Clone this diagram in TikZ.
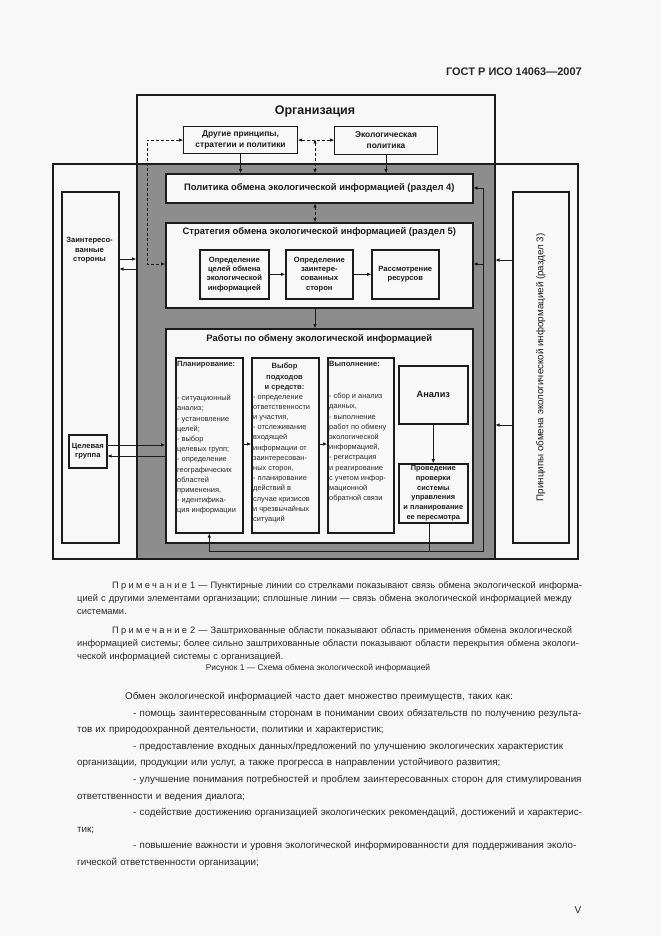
\documentclass[tikz,border=0pt]{standalone}
\usepackage{fontspec}
\setmainfont{Liberation Sans}
\usepackage{tikz}
\usetikzlibrary{
    calc,
    positioning,
    arrows.meta
}
\definecolor{paper}{RGB}{248,248,248}
\definecolor{hatch}{RGB}{141,141,141}
\definecolor{ink}{RGB}{28,28,28}
\definecolor{print}{RGB}{40,40,40}
\newcommand{\fsz}[2]{\fontsize{#1}{#2}\selectfont}
\newcommand{\spaced}[1]{{\addfontfeatures{LetterSpace=25}#1}}
\newlength{\pagetext}
\setlength{\pagetext}{506pt}
\newcommand{\fullline}[2][0pt]{\hspace*{#1}\makebox[\dimexpr\pagetext-#1\relax][s]{#2}}
\tikzset{
    line/.style = {
        line width = 0.9pt,
        draw = ink,
        ->,
        > = {
            Triangle[length=4pt, width=3pt]
        }
    },
    % Link to the other parts of the organisation:
    dash line/.style = {
        line,
        <->,
        dash pattern = on 3pt off 2pt
    },
    % Framed box:
    block/.style = {
        draw = ink,
        fill = paper,
        line width = 1.6pt,
        inner sep = 0pt,
        anchor = north west,
        align = center,
        text = ink
    },
    % Box with a thinner frame:
    light block/.style = {
        block,
        line width = 1.1pt
    },
    % Small text in the boxes:
    list text/.style = {
        anchor = north west,
        inner sep = 0pt,
        align = left,
        text = print,
        font = \fsz{7.4}{10.2}
    },
    % Page text:
    page text/.style = {
        anchor = north west,
        inner sep = 0pt,
        text width = \pagetext,
        align = left,
        text = print
    }
}

\begin{document}
\begin{tikzpicture}[x=1pt, y=-1pt]
    \path [use as bounding box, fill=paper] (0, 0) rectangle (661, 936);
    \node [anchor=east, inner sep=0pt, font=\bfseries\fsz{11}{13}, text=print] (header) at (582, 72) {ГОСТ Р ИСО 14063—2007};
    % Frames: organisation, exchange system and the overlap
    \node [block, minimum width=358pt, minimum height=464pt] (org) at (136, 94) {};
    \node [block, minimum width=525pt, minimum height=395pt] (system) at (52, 163) {};
    \node [block, fill=hatch, minimum width=358pt, minimum height=395pt] (overlap) at (136, 163) {};
    \node [font=\bfseries\fsz{12.5}{14}, text=ink] (orgname) at (315, 111) {Организация};
    \node [light block, minimum width=114pt, minimum height=27pt, font=\bfseries\fsz{8.4}{11}] (others) at (183, 126) {Другие принципы,\\стратегии и политики};
    \node [light block, minimum width=103pt, minimum height=28pt, font=\bfseries\fsz{8.4}{11}] (ecopolicy) at (334, 126) {Экологическая\\политика};
    \node [block, minimum width=307pt, minimum height=29pt, font=\bfseries\fsz{9.4}{10}] (policy) at (165, 173) {Политика обмена экологической информацией (раздел 4)};
    % Strategy
    \node [block, minimum width=307pt, minimum height=85pt] (strategy) at (165, 222) {};
    \node [below=5pt of strategy.north, inner sep=0pt, font=\bfseries\fsz{9.4}{10}, text=ink] (strategyname) {Стратегия обмена экологической информацией (раздел 5)};
    \node [block, minimum width=69pt, minimum height=49pt, font=\bfseries\fsz{7.6}{9.4}] (goals) at (199, 249) {Определение\\целей обмена\\экологической\\информацией};
    \node [block, minimum width=67pt, minimum height=49pt, font=\bfseries\fsz{7.6}{9.4}] (parties) at (285, 249) {Определение\\заинтере-\\сованных\\сторон};
    \node [block, minimum width=67pt, minimum height=49pt, font=\bfseries\fsz{7.6}{9.4}] (resources) at (371, 249) {Рассмотрение\\ресурсов};
    % Activities
    \node [block, minimum width=307pt, minimum height=214pt] (work) at (165, 328) {};
    \node [below=6pt of work.north, inner sep=0pt, font=\bfseries\fsz{9.4}{10}, text=ink] (workname) {Работы по обмену экологической информацией};
    \node [block, minimum width=67pt, minimum height=175pt] (planning) at (175, 357) {};
    \node [block, minimum width=67pt, minimum height=175pt] (choice) at (251, 357) {};
    \node [block, minimum width=66pt, minimum height=175pt] (execution) at (327, 357) {};
    \node [block, minimum width=69pt, minimum height=58pt, font=\bfseries\fsz{9.2}{11}] (analysis) at (398, 365) {Анализ};
    \node [block, minimum width=69pt, minimum height=59pt, font=\bfseries\fsz{7.4}{9.8}] (review) at (398, 463) {Проведение\\проверки\\системы\\управления\\и планирование\\ее пересмотра};
    \node [list text, font=\bfseries\fsz{7.6}{10}] (planninghead) at (177, 361) {Планирование:};
    \node [list text] (planninglist) at (177, 395) {- ситуационный\\анализ;\\- установление\\целей;\\- выбор\\целевых групп;\\- определение\\географических\\областей\\применения,\\- идентифика-\\ция информации};
    \node [list text, anchor=north, align=center, font=\bfseries\fsz{7.6}{10.6}] (choicehead) at (284.5, 363) {Выбор\\подходов\\и средств:};
    \node [list text] (choicelist) at (253, 395) {- определение\\ответственности\\и участия,\\- отслеживание\\входящей\\информации от\\заинтересован-\\ных сторон,\\- планирование\\действий в\\случае кризисов\\и чрезвычайных\\ситуаций};
    \node [list text, font=\bfseries\fsz{7.6}{10}] (executionhead) at (329, 361) {Выполнение:};
    \node [list text] (executionlist) at (329, 393) {- сбор и анализ\\данных,\\- выполнение\\работ по обмену\\экологической\\информацией,\\- регистрация\\и реагирование\\с учетом инфор-\\мационной\\обратной связи};
    % Left and right of the organisation
    \node [block, minimum width=57pt, minimum height=351pt] (stakeholders) at (61, 191) {};
    \node [anchor=north, inner sep=0pt, align=center, font=\bfseries\fsz{7.6}{9.6}, text=ink] (stakename) at (89.5, 237) {Заинтересо-\\ванные\\стороны};
    \node [block, minimum width=38pt, minimum height=33pt, font=\bfseries\fsz{7.6}{9.4}] (target) at (68, 434) {Целевая\\группа};
    \node [block, minimum width=56pt, minimum height=351pt] (principles) at (512, 191) {};
    \node [rotate=90, inner sep=0pt, font=\fsz{9.8}{11}, text=ink] (principlesname) at (principles.center) {Принципы обмена экологической информацией (раздел 3)};
    % Connectors
    \draw [line] (others.south) -- (others.south |- policy.north);
    \draw [line] (ecopolicy.south) -- (ecopolicy.south |- policy.north);
    \draw [dash line] (others.east) -- (others.east -| ecopolicy.west);
    \coordinate (linkpoint) at (315, 139.5);
    \coordinate (linkcorner) at (147, 264);
    \draw [dash line] (linkpoint) -- (linkpoint |- policy.north);
    \draw [dash line] (linkpoint |- policy.south) -- (linkpoint |- strategy.north);
    \draw [dash line] (others.west) -| (linkcorner) -- (linkcorner -| strategy.west);
    \draw [line] (goals.east) -- (parties.west);
    \draw [line] (parties.east) -- (resources.west);
    \draw [line] (linkpoint |- strategy.south) -- (linkpoint |- work.north);
    \draw [line] (planning.east |- 0, 444) -- (choice.west |- 0, 444);
    \draw [line] (choice.east |- 0, 444) -- (execution.west |- 0, 444);
    \draw [line] (analysis.south) -- (review.north);
    % Feedback of the review
    \coordinate (backturn) at (429, 551);
    \coordinate (backcorner) at (483, 551);
    \draw [line] (review.south -| backturn) -- (backturn) -| (planning.south);
    \draw [line, -] (backturn) -- (backcorner) -- (backcorner |- 0, 188);
    \draw [line] (backcorner |- 0, 188) -- (policy.east |- 0, 188);
    \draw [line] (backcorner |- 0, 264) -- (strategy.east |- 0, 264);
    \draw [line] (stakeholders.east |- 0, 259) -- (overlap.west |- 0, 259);
    \draw [line] (overlap.west |- 0, 269) -- (stakeholders.east |- 0, 269);
    \draw [line] (target.east |- 0, 445) -- (work.west |- 0, 445);
    \draw [line] (work.west |- 0, 456) -- (target.east |- 0, 456);
    \draw [line] (principles.west |- 0, 260) -- (overlap.east |- 0, 260);
    \draw [line] (principles.west |- 0, 425) -- (overlap.east |- 0, 425);
    % Notes, caption and text
    \node [page text, font=\fsz{9.3}{13}] (noteone) at (77, 581) {\fullline[35pt]{\spaced{Примечание} 1 — Пунктирные линии со стрелками показывают связь обмена экологической информа-}\\
        \fullline{цией с другими элементами организации; сплошные линии — связь обмена экологической информацией между}\\
        системами.};
    \node [page text, font=\fsz{9.3}{13}] (notetwo) at (77, 626) {\fullline[35pt]{\spaced{Примечание} 2 — Заштрихованные области показывают область применения обмена экологической}\\
        \fullline{информацией системы; более сильно заштрихованные области показывают области перекрытия обмена экологи-}\\
        ческой информацией системы с организацией.};
    \node [inner sep=0pt, font=\fsz{8.4}{12}, text=print] (caption) at (318, 668) {Рисунок 1 — Схема обмена экологической информацией};
    \node [page text, font=\fsz{9.8}{16.6}] (benefits) at (77, 692) {\hspace*{48pt}Обмен экологической информацией часто дает множество преимуществ, таких как:\\
        \fullline[56pt]{- помощь заинтересованным сторонам в понимании своих обязательств по получению результа-}\\
        тов их природоохранной деятельности, политики и характеристик;\\
        \fullline[56pt]{- предоставление входных данных/предложений по улучшению экологических характеристик}\\
        организации, продукции или услуг, а также прогресса в направлении устойчивого развития;\\
        \fullline[56pt]{- улучшение понимания потребностей и проблем заинтересованных сторон для стимулирования}\\
        ответственности и ведения диалога;\\
        \fullline[56pt]{- содействие достижению организацией экологических рекомендаций, достижений и характерис-}\\
        тик;\\
        \fullline[56pt]{- повышение важности и уровня экологической информированности для поддерживания эколо-}\\
        гической ответственности организации;};
    \node [inner sep=0pt, font=\fsz{10}{12}, text=print] (pagenum) at (578, 910) {V};
\end{tikzpicture}
\end{document}
